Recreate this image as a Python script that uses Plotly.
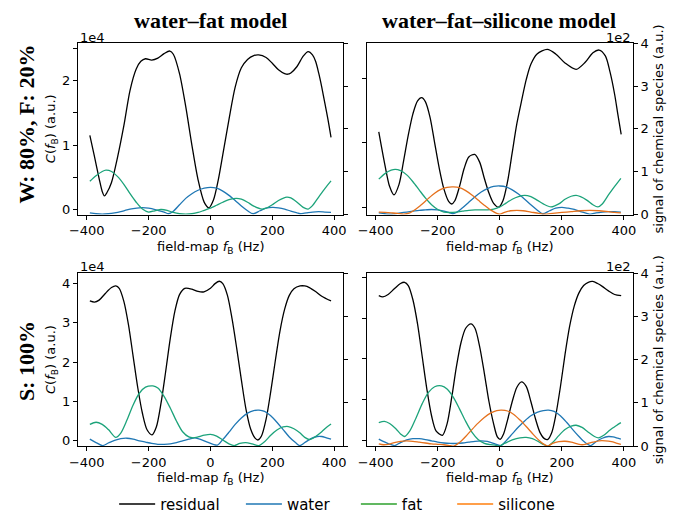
import numpy as np
import plotly.graph_objects as go

# ---------------- data ----------------
# field-map frequency axis ticks
x_ticks = [-400, -200, 0, 200, 400]

# Top-left: W 80%, F 20% -- water-fat model
tl_res_f = [-390,-375,-360,-350,-343,-335,-320,-300,-280,-260,-240,-225,-210,-190,-170,-150,-131,-120,-100,-80,
            -60,-40,-20,-5,10,25,40,60,80,100,120,140,156,180,200,220,240,250,260,280,300,316,330,340,350,360,370,380,390]
tl_res_c = [1.15,0.82,0.48,0.28,0.21,0.26,0.42,0.82,1.30,1.85,2.18,2.30,2.34,2.32,2.35,2.42,2.46,2.41,2.11,1.60,
            1.00,0.46,0.11,0.025,0.15,0.45,0.85,1.40,1.90,2.20,2.33,2.39,2.40,2.36,2.27,2.17,2.11,2.10,2.12,2.22,
            2.38,2.45,2.40,2.30,2.12,1.90,1.65,1.40,1.12]  # x1e4
tl_fat_f = [-390,-370,-350,-338,-320,-300,-280,-260,-240,-220,-200,-180,-160,-140,-120,-100,-80,-60,-40,-20,
            0,20,40,60,84,100,120,140,167,180,200,220,247,260,280,300,316,330,350,370,390]
tl_fat_s = [77,90,100,103,100,88,70,48,28,12,5,8,11,9,4,1,0,1,4,9,
            14,21,28,34,37,35,28,19,12,14,22,32,40,38,28,16,12,20,40,60,78]
tl_wat_f = [-390,-370,-350,-330,-310,-290,-270,-250,-230,-210,-190,-170,-150,-136,-120,-100,-80,-60,-40,-20,
            0,20,40,60,80,100,120,138,160,180,200,220,240,260,280,290,310,330,350,370,390]
tl_wat_s = [3,1,0,1,3,6,10,13,15,15,13,9,5,1,7,22,37,48,56,61,
            63,61,54,44,32,19,8,1,8,14,16,15,12,7,3,1,3,5,6,5,4]

# Top-right: W 80%, F 20% -- water-fat-silicone model
tr_res_f = [-390,-370,-355,-341,-325,-310,-295,-280,-265,-252,-240,-225,-210,-195,-180,-165,-155,-145,-130,-115,
            -100,-81,-65,-50,-35,-20,-4,10,25,40,55,70,85,100,120,153,180,210,246,275,300,320,340,355,370,380,391]
tr_res_c = [1.17,0.65,0.32,0.19,0.35,0.72,1.12,1.45,1.65,1.70,1.64,1.40,1.00,0.60,0.28,0.09,0.05,0.10,0.32,0.60,
            0.78,0.82,0.70,0.45,0.22,0.06,0.0,0.1,0.4,0.85,1.3,1.65,1.98,2.22,2.38,2.45,2.38,2.24,2.14,2.25,
            2.40,2.44,2.35,2.10,1.75,1.45,1.13]  # x1e4
tr_fat_f = [-390,-370,-350,-337,-320,-300,-280,-260,-240,-220,-200,-180,-160,-140,-120,-100,-80,-60,-40,-20,
            0,20,40,60,80,100,120,140,165,190,210,230,246,260,280,300,316,330,350,370,390]
tr_fat_s = [82,95,103,105,102,92,76,57,38,22,11,5,4,5,7,9,10,10,10,12,
            17,26,35,41,44,41,33,24,17,24,35,42,44,41,33,22,17,24,45,65,84]
tr_sil_f = [-390,-370,-350,-330,-310,-290,-270,-250,-230,-210,-190,-170,-150,-130,-110,-90,-70,-50,-30,-10,
            0,15,35,55,75,100,125,145,170,200,230,260,290,320,350,370,390]
tr_sil_s = [5,4,3,2,0,3,12,24,37,49,58,63,64,62,55,45,33,21,10,2,
            0,4,8,9,8,5,2,0,2,4,6,8,9,8,6,4,3]
tr_wat_f = [-390,-370,-355,-340,-320,-300,-280,-260,-240,-220,-200,-180,-165,-152,-140,-120,-100,-80,-60,-40,
            -20,0,20,40,60,80,100,120,138,160,180,200,220,240,260,280,292,310,330,350,370,390]
tr_wat_s = [3,1,0,1,3,5,7,9,10,11,10,7,4,1,4,15,28,41,52,60,
            65,66,64,57,47,35,22,10,1,8,14,16,14,11,6,2,0,3,5,6,6,5]

# Bottom-left: S 100% -- water-fat model
bl_res_f = [-390,-375,-360,-340,-320,-306,-295,-280,-265,-250,-235,-220,-205,-189,-175,-160,-145,-130,-115,-100,
            -83,-60,-40,-21,0,15,29,40,55,70,85,100,115,130,145,154,165,180,195,210,
            225,240,255,270,290,305,320,340,360,390]
bl_res_c = [3.56,3.53,3.58,3.75,3.90,3.94,3.88,3.55,2.95,2.15,1.35,0.70,0.28,0.15,0.35,0.95,1.75,2.60,3.30,3.72,
            3.88,3.86,3.80,3.79,3.88,4.00,4.06,4.00,3.70,3.10,2.35,1.55,0.80,0.30,0.06,0.02,0.12,0.55,1.25,2.05,
            2.80,3.35,3.70,3.87,3.94,3.94,3.90,3.80,3.68,3.56]  # x1e4
bl_fat_f = [-390,-370,-350,-330,-306,-290,-270,-250,-230,-210,-186,-170,-150,-130,-110,-90,-70,-56,-40,-20,
            0,20,40,60,77,95,114,135,156,175,195,215,235,252,270,290,305,321,340,360,375,390]
bl_fat_s = [50,55,50,38,20,30,60,95,122,136,139,134,115,88,58,33,21,19,21,25,
            27,23,14,5,1,6,8,5,1,10,25,37,44,45,40,30,20,15,22,33,43,51]
bl_wat_f = [-390,-370,-349,-330,-310,-290,-270,-250,-230,-210,-190,-170,-150,-130,-110,-90,-70,-50,-30,-10,
            22,40,60,80,100,120,140,157,175,195,215,235,255,275,289,305,325,345,360,375,390]
bl_wat_s = [16,8,1,7,13,17,18,16,12,9,6,4,4,5,8,12,16,19,15,9,
            2,15,32,50,65,76,82,83,80,70,55,38,21,8,1,8,17,22,22,19,16]

# Bottom-right: S 100% -- water-fat-silicone model
br_res_f = [-390,-377,-360,-340,-320,-307,-295,-280,-265,-250,-235,-220,-205,-185,-170,-155,-140,-125,-110,-93,
            -80,-65,-50,-35,-20,-8,1,12,25,40,55,70,85,100,115,130,145,155,168,180,
            195,210,225,240,255,270,285,299,315,330,350,370,391]
br_res_c = [3.55,3.52,3.58,3.72,3.85,3.88,3.80,3.45,2.85,2.05,1.25,0.60,0.22,0.12,0.40,1.05,1.80,2.40,2.75,2.86,
            2.75,2.30,1.65,0.95,0.40,0.08,0.02,0.15,0.50,0.95,1.30,1.43,1.32,0.95,0.52,0.18,0.03,0.02,0.20,0.60,
            1.30,2.10,2.80,3.30,3.62,3.80,3.88,3.90,3.85,3.78,3.67,3.58,3.55]  # x1e4
br_fat_f = [-390,-372,-355,-335,-320,-307,-290,-270,-250,-230,-210,-188,-170,-150,-130,-110,-90,-70,-50,-30,
            -15,-3,15,40,65,85,105,125,140,155,170,190,210,230,246,265,285,305,318,335,355,375,390]
br_fat_s = [54,57,52,40,28,22,35,65,98,124,137,139,132,113,86,57,32,15,6,3,
            2,0,6,14,19,20,17,10,4,0,8,24,38,46,48,43,32,22,19,25,37,47,54]
br_sil_f = [-390,-375,-360,-340,-320,-300,-280,-260,-240,-220,-200,-180,-160,-148,-130,-110,-90,-70,-50,-30,
            -10,6,25,45,65,85,105,125,140,154,170,190,210,230,250,265,280,300,320,340,360,375,390]
br_sil_s = [5,3,4,8,11,12,11,9,7,5,4,3,1,0,8,22,38,53,66,76,
            82,83,81,73,60,45,29,14,5,0,6,10,11,9,5,3,5,9,12,12,10,7,4]
br_wat_f = [-390,-370,-350,-339,-320,-300,-280,-260,-240,-220,-200,-180,-160,-140,-120,-100,-80,-60,-40,-20,
            4,20,40,60,80,100,120,140,157,175,195,215,235,255,275,293,310,330,350,365,380,390]
br_wat_s = [16,9,3,1,8,14,17,17,15,12,9,7,6,6,7,9,11,12,11,6,
            1,12,28,44,58,70,78,82,83,80,70,55,38,22,8,1,10,18,22,21,18,16]

col_titles = ["water–fat model", "water–fat–silicone model"]
row_titles = ["W: 80%, F: 20%", "S: 100%"]
legend_names = ["residual", "water", "fat", "silicone"]

# ---------------- styling ----------------
W, H = 691, 525
C_RES, C_WAT, C_FAT, C_SIL = "#000000", "#1f77b4", "#1ca37a", "#e5711d"
LEG_COLORS = ["#000000", "#1f77b4", "#2ca02c", "#ff7f0e"]
LW = 1.3
FONT = "DejaVu Sans"

def px_x(p):
    return p / W

def px_y(p):
    return (H - p) / H

xL = [px_x(70), px_x(340)]
xR = [px_x(364), px_x(635)]
yT = [px_y(213.3), px_y(37.3)]
yB = [px_y(451.5), px_y(273.3)]

fig = go.Figure()

def line(xs, ys, color, xa, ya):
    fig.add_trace(go.Scatter(x=xs, y=ys, mode="lines", line=dict(color=color, width=LW, shape="spline", smoothing=0.8),
                             xaxis=xa, yaxis=ya, showlegend=False, hoverinfo="skip"))

# TL
line(tl_res_f, tl_res_c, C_RES, "x", "y")
line(tl_wat_f, tl_wat_s, C_WAT, "x", "y2")
line(tl_fat_f, tl_fat_s, C_FAT, "x", "y2")
# TR
line(tr_res_f, tr_res_c, C_RES, "x2", "y3")
line(tr_wat_f, tr_wat_s, C_WAT, "x2", "y4")
line(tr_fat_f, tr_fat_s, C_FAT, "x2", "y4")
line(tr_sil_f, tr_sil_s, C_SIL, "x2", "y4")
# BL
line(bl_res_f, bl_res_c, C_RES, "x3", "y5")
line(bl_wat_f, bl_wat_s, C_WAT, "x3", "y6")
line(bl_fat_f, bl_fat_s, C_FAT, "x3", "y6")
# BR
line(br_res_f, br_res_c, C_RES, "x4", "y7")
line(br_wat_f, br_wat_s, C_WAT, "x4", "y8")
line(br_fat_f, br_fat_s, C_FAT, "x4", "y8")
line(br_sil_f, br_sil_s, C_SIL, "x4", "y8")

# legend entries (separate legends for matplotlib-like spacing)
leg_px = [107, 236, 353, 451]
for i, (nm, col) in enumerate(zip(legend_names, LEG_COLORS)):
    lg = "legend" if i == 0 else f"legend{i+1}"
    fig.add_trace(go.Scatter(x=[None], y=[None], mode="lines", name=nm, line=dict(color=col, width=1.5),
                             xaxis="x", yaxis="y", showlegend=True, legend=lg))

tickstyle = dict(ticks="outside", ticklen=4, tickwidth=1, tickcolor="black", showline=True, linecolor="black",
                 linewidth=1, showgrid=False, zeroline=False, tickfont=dict(family=FONT, size=13, color="black"))

def xax(domain, anchor):
    d = dict(domain=domain, anchor=anchor, range=[-429, 429], tickvals=x_ticks, mirror=True)
    d.update(tickstyle)
    return d

def yax(domain, anchor, rng, vals, texts, side="left", overlay=None, labels=True):
    d = dict(anchor=anchor, range=rng, tickvals=vals, ticktext=texts, side=side, showticklabels=labels)
    if overlay:
        d["overlaying"] = overlay
    else:
        d["domain"] = domain
    d.update(tickstyle)
    return d

sig_vals = [0, 100, 200, 300, 400]
sig_text = ["0", "1", "2", "3", "4"]

layout = dict(
    width=W, height=H, margin=dict(l=0, r=0, t=0, b=0),
    paper_bgcolor="white", plot_bgcolor="white",
    font=dict(family=FONT, size=13, color="black"),
    xaxis=xax(xL, "y"),
    yaxis=yax(yT, "x", [-0.08, 2.58], [0, 0.5, 1, 1.5, 2, 2.5], ["0", "", "1", "", "2", ""]),
    yaxis2=yax(None, "x", [-1, 400], sig_vals, sig_text, side="right", overlay="y", labels=False),
    xaxis2=xax(xR, "y3"),
    yaxis3=yax(yT, "x2", [-0.115, 2.545], [0, 1, 2], ["0", "1", "2"], labels=False),
    yaxis4=yax(None, "x2", [-1, 400], sig_vals, sig_text, side="right", overlay="y3"),
    xaxis3=xax(xL, "y5"),
    yaxis5=yax(yB, "x3", [-0.145, 4.27], [0, 1, 2, 3, 4], ["0", "1", "2", "3", "4"]),
    yaxis6=yax(None, "x3", [-1, 400], sig_vals, sig_text, side="right", overlay="y5", labels=False),
    xaxis4=xax(xR, "y7"),
    yaxis7=yax(yB, "x4", [-0.155, 4.108], [0, 1, 2, 3, 4], ["0", "1", "2", "3", "4"], labels=False),
    yaxis8=yax(None, "x4", [-1, 400], sig_vals, sig_text, side="right", overlay="y7"),
)
for i in range(4):
    key = "legend" if i == 0 else f"legend{i+1}"
    layout[key] = dict(x=px_x(leg_px[i]), xanchor="left", y=px_y(511), yanchor="middle", orientation="h",
                       itemwidth=36, bgcolor="rgba(0,0,0,0)", font=dict(family=FONT, size=15, color="black"))
fig.update_layout(**layout)

ann = []
def txt(text, x, y, size=13, angle=0, family=FONT, xanchor="center", yanchor="middle"):
    ann.append(dict(text=text, x=px_x(x), y=px_y(y), xref="paper", yref="paper", showarrow=False,
                    textangle=angle, xanchor=xanchor, yanchor=yanchor,
                    font=dict(family=family, size=size, color="black")))

SERIF = "Liberation Serif"
txt(f"<b>{col_titles[0]}</b>", 205, 14, size=22, family=SERIF)
txt(f"<b>{col_titles[1]}</b>", 499, 14, size=22, family=SERIF)
txt(f"<b>{row_titles[0]}</b>", 18, 120, size=22, angle=-90, family=SERIF)
txt(f"<b>{row_titles[1]}</b>", 18, 364, size=22, angle=-90, family=SERIF)
xt = "field-map <i>f</i><sub>B</sub> (Hz)"
for xc in (205, 499.5):
    txt(xt, xc, 247)
    txt(xt, xc, 484)
yt = "<i>C</i>(<i>f</i><sub>B</sub>) (a.u.)"
rt = "signal of chemical species (a.u.)"
for yc in (125.3, 362.4):
    txt(yt, 44, yc, angle=-90)
    txt(rt, 661, yc, angle=-90)
for yc in (31, 267):
    txt("1e4", 70, yc, xanchor="left")
    txt("1e2", 635, yc, xanchor="right")
fig.update_layout(annotations=ann)

fig.write_html("out.html")
